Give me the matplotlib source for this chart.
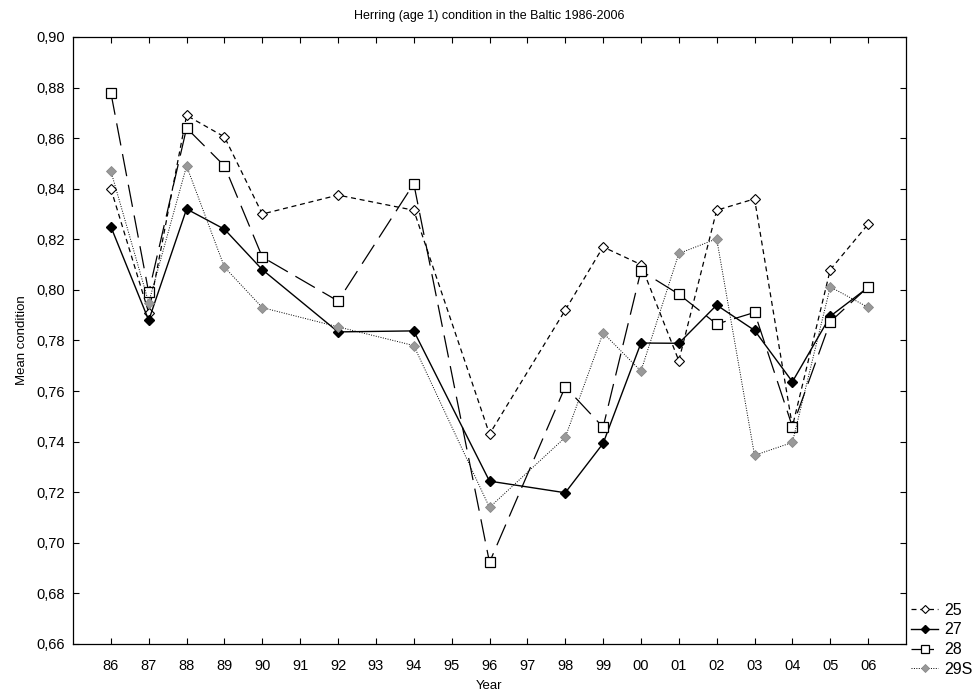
import matplotlib
matplotlib.use('Agg')
import matplotlib.pyplot as plt
import numpy as np

plt.rcParams['font.family'] = ['Liberation Sans', 'DejaVu Sans']

# all years on the axis (two-digit labels)
year_labels = ['86', '87', '88', '89', '90', '91', '92', '93', '94', '95', '96',
               '97', '98', '99', '00', '01', '02', '03', '04', '05', '06']
# years that have data
data_years = ['86', '87', '88', '89', '90', '92', '94', '96', '98', '99', '00',
              '01', '02', '03', '04', '05', '06']

sd25 = [0.840, 0.791, 0.869, 0.8605, 0.830, 0.8375, 0.8315, 0.743, 0.792, 0.817,
        0.810, 0.772, 0.8315, 0.836, 0.746, 0.808, 0.826]
sd27 = [0.825, 0.788, 0.832, 0.824, 0.808, 0.7834, 0.7838, 0.7244, 0.7198, 0.7393,
        0.779, 0.7789, 0.794, 0.784, 0.7637, 0.7896, 0.801]
sd28 = [0.878, 0.799, 0.864, 0.849, 0.813, 0.7956, 0.842, 0.6923, 0.7617, 0.7457,
        0.8076, 0.7983, 0.7865, 0.7911, 0.7459, 0.7874, 0.8012]
sd29s = [0.847, 0.795, 0.849, 0.809, 0.793, 0.7854, 0.778, 0.714, 0.7417, 0.783,
         0.7679, 0.8144, 0.8202, 0.7346, 0.7397, 0.8012, 0.7931]

xpos = [year_labels.index(y) for y in data_years]

fig = plt.figure(figsize=(9.77, 6.97), dpi=100)
ax = fig.add_axes([73/977, 1-644/697, (906-73)/977, (644-37)/697])

ax.plot(xpos, sd25, color='black', lw=0.9, dashes=(4, 3), marker='D', ms=5,
        mfc='white', mec='black', mew=0.8, label='25')
ax.plot(xpos, sd27, color='black', lw=1.0, ls='-', marker='D', ms=5,
        mfc='black', mec='black', label='27')
ax.plot(xpos, sd28, color='black', lw=0.9, dashes=(18, 7), marker='s', ms=6.5,
        mfc='white', mec='black', mew=0.9, label='28')
ax.plot(xpos, sd29s, color='black', lw=0.7, ls=(0, (1, 1.5)), marker='D', ms=5,
        mfc='#999999', mec='#888888', mew=0.6, label='29S')

ax.set_xlim(-1, 21)
ax.set_ylim(0.66, 0.90)
ax.set_xticks(range(len(year_labels)))
ax.set_xticklabels(year_labels)
yt = np.arange(0.66, 0.9001, 0.02)
ax.set_yticks(yt)
ax.set_yticklabels([('%.2f' % v).replace('.', ',') for v in yt])
ax.tick_params(direction='in', top=True, right=True, length=4, width=0.8,
               labelsize=10.5)
ax.tick_params(axis='x', pad=11)
ax.tick_params(axis='y', pad=6)
for s in ax.spines.values():
    s.set_linewidth(0.9)

ax.set_title('Herring (age 1) condition in the Baltic 1986-2006', fontsize=9, pad=13)
ax.set_xlabel('Year', fontsize=9.5, labelpad=5)
ax.set_ylabel('Mean condition', fontsize=9.5, labelpad=6)

fig.legend(loc='lower left', bbox_to_anchor=(911/977, 1-677/697), frameon=False,
           fontsize=11.5, handlelength=1.7, handletextpad=0.4, labelspacing=0.3,
           markerscale=0.85, borderaxespad=0, borderpad=0)

fig.savefig('out.png', dpi=100)
